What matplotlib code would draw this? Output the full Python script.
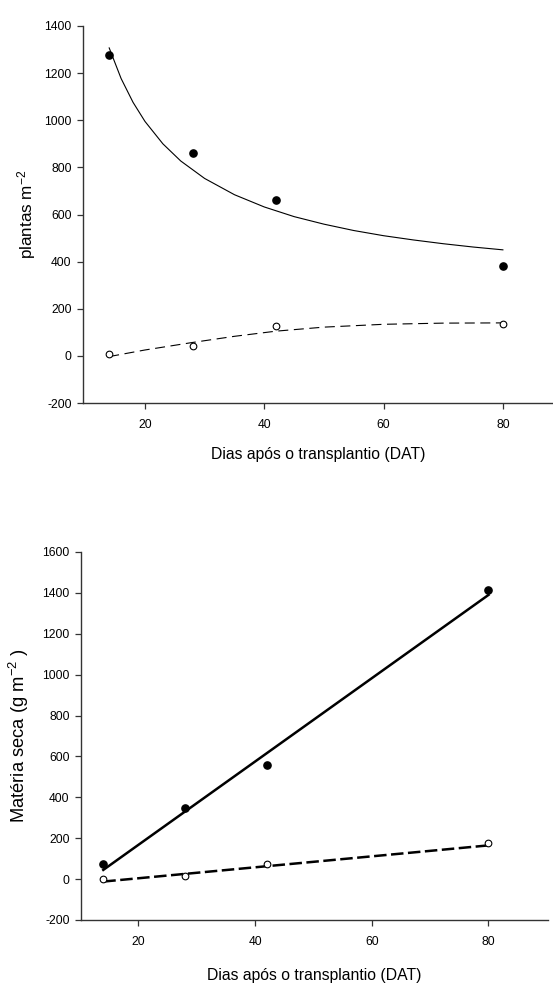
import matplotlib
matplotlib.use("Agg")
import matplotlib.pyplot as plt

# dias apos o transplantio
dat = [14, 28, 42, 80]

# painel de cima: plantas m-2
plantas_cheio = [1278, 861, 662, 380]
plantas_vazio = [10, 40, 125, 135]
# curvas ajustadas
curva_cheio_x = [14, 16, 18, 20, 23, 26, 30, 35, 40, 45, 50, 55, 60, 65, 70, 75, 80]
curva_cheio_y = [1307, 1177, 1076, 995, 900, 827, 753, 684, 632, 591, 559, 532, 510, 492, 476, 462, 450]
curva_vazio_x = [14, 20, 28, 35, 42, 50, 60, 70, 80]
curva_vazio_y = [-3, 25, 57, 83, 105, 122, 134, 139, 140]

# painel de baixo: materia seca g m-2
ms_cheio = [75, 350, 556, 1415]
ms_vazio = [2, 16, 73, 178]
reta_x = [14, 80]
reta_cheio_y = [45, 1390]
reta_vazio_y = [-12, 165]

plt.rcParams["font.family"] = ["Liberation Sans", "DejaVu Sans"]
plt.rcParams["mathtext.default"] = "regular"
plt.rcParams["axes.unicode_minus"] = False

W, H = 553, 983
fig = plt.figure(figsize=(W / 100, H / 100), dpi=100)


def px_axes(left, top, right, bottom):
    return fig.add_axes([left / W, 1 - bottom / H, (right - left) / W, (bottom - top) / H])


def estilo(ax):
    for s in ("top", "right"):
        ax.spines[s].set_visible(False)
    for s in ("left", "bottom"):
        ax.spines[s].set_color("#333333")
        ax.spines[s].set_linewidth(1.0)
    ax.tick_params(direction="out", length=4, width=0.9, color="#333333",
                   labelsize=8.7, pad=4)
    ax.tick_params(axis="x", pad=7.5)


# ---- painel de cima ----
ax1 = px_axes(82.7, 26, 553, 403)
ax1.plot(curva_cheio_x, curva_cheio_y, "-", color="black", lw=0.8)
l, = ax1.plot(curva_vazio_x, curva_vazio_y, "--", color="black", lw=0.8)
l.set_dashes((9, 5))
ax1.plot(dat, plantas_cheio, "o", color="black", ms=5.2, zorder=5)
ax1.plot(dat, plantas_vazio, "o", mfc="white", mec="black", mew=0.8, ms=4.8, zorder=5)
ax1.set_xlim(9.56, 88.4)
ax1.set_ylim(-200, 1400)
ax1.set_xticks([20, 40, 60, 80])
ax1.set_yticks(range(-200, 1401, 200))
estilo(ax1)
ax1.set_xlabel("Dias após o transplantio (DAT)", fontsize=11.3)
ax1.set_ylabel(r"plantas m$^{-2}$", fontsize=12.3)
ax1.xaxis.set_label_coords(0.5, -0.118)
ax1.yaxis.set_label_coords(-0.096, 0.5)

# ---- painel de baixo ----
ax2 = px_axes(80.7, 552, 548, 920)
ax2.plot(reta_x, reta_cheio_y, "-", color="black", lw=1.8)
l2, = ax2.plot(reta_x, reta_vazio_y, "--", color="black", lw=1.8)
l2.set_dashes((5, 1.8))
ax2.plot(dat, ms_cheio, "o", color="black", ms=5.2, zorder=5)
ax2.plot(dat, ms_vazio, "o", mfc="white", mec="black", mew=0.8, ms=4.8, zorder=5)
ax2.set_xlim(10.13, 90.2)
ax2.set_ylim(-200, 1600)
ax2.set_xticks([20, 40, 60, 80])
ax2.set_yticks(range(-200, 1601, 200))
estilo(ax2)
ax2.set_xlabel("Dias após o transplantio (DAT)", fontsize=11.3)
ax2.set_ylabel(r"Matéria seca (g m$^{-2}$ )", fontsize=13.2)
ax2.xaxis.set_label_coords(0.5, -0.131)
ax2.yaxis.set_label_coords(-0.107, 0.5)

fig.savefig("out.png", dpi=100)
plt.close(fig)
